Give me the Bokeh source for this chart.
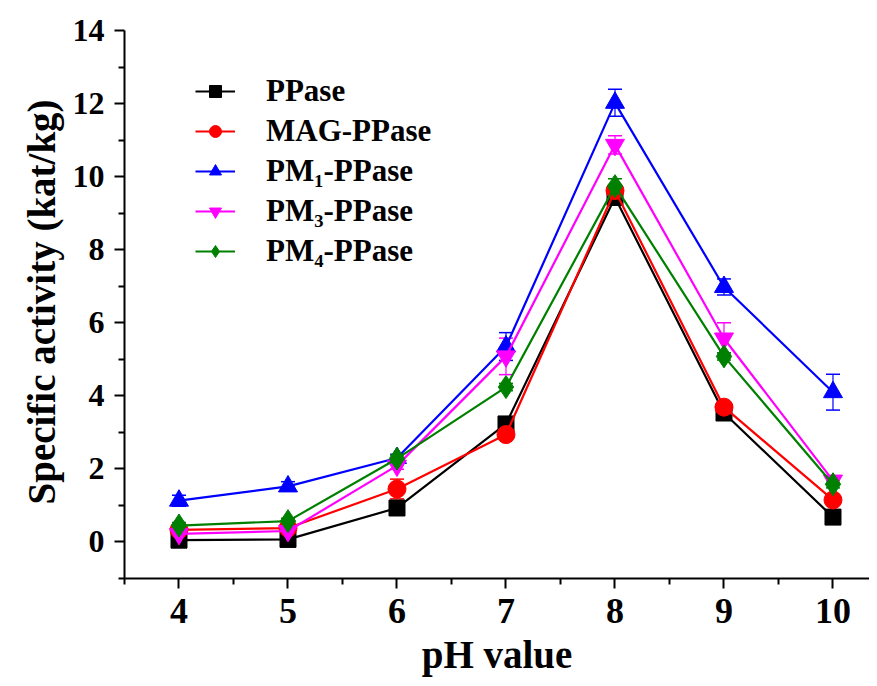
from bokeh.plotting import figure
from bokeh.models import Range1d, Whisker, ColumnDataSource, Legend, LegendItem, FixedTicker, Title
from bokeh.embed import file_html
from bokeh.resources import INLINE

ph = [4, 5, 6, 7, 8, 9, 10]
names = ["PPase", "MAG-PPase", "PM\u2081-PPase", "PM\u2083-PPase", "PM\u2084-PPase"]
ppase = [0.05, 0.07, 0.93, 3.23, 9.43, 3.53, 0.68]
mag = [0.33, 0.38, 1.45, 2.94, 9.62, 3.69, 1.15]
pm1 = [1.13, 1.52, 2.30, 5.35, 12.02, 6.98, 4.10]
pm3 = [0.22, 0.30, 2.09, 5.08, 10.87, 5.57, 1.68]
pm4 = [0.45, 0.57, 2.28, 4.24, 9.74, 5.08, 1.58]
err_ppase = [0.05, 0.05, 0.08, 0.10, 0.10, 0.10, 0.08]
err_mag = [0.05, 0.05, 0.27, 0.10, 0.10, 0.10, 0.08]
err_pm1 = [0.15, 0.13, 0.10, 0.38, 0.37, 0.22, 0.49]
err_pm3 = [0.10, 0.10, 0.10, 0.50, 0.25, 0.43, 0.10]
err_pm4 = [0.08, 0.08, 0.10, 0.10, 0.20, 0.10, 0.10]
x_title = "pH value"
y_title = "Specific activity (kat/kg)"

series = [ppase, mag, pm1, pm3, pm4]
errors = [err_ppase, err_mag, err_pm1, err_pm3, err_pm4]
colors = ["#000000", "#ff0000", "#0000ff", "#ff00ff", "#008000"]
markers = ["square", "circle", "triangle", "inverted_triangle", "diamond"]
msizes = [16, 18, 19, 19, 23]

FONT = "Liberation Serif"

p = figure(width=869, height=678, output_backend="svg", toolbar_location=None,
           x_range=Range1d(3.5, 10.335), y_range=Range1d(-1, 14),
           min_border_left=124, min_border_right=0, min_border_top=30, min_border_bottom=98)
p.outline_line_color = None
p.xgrid.visible = False
p.ygrid.visible = False

items = []
for ys, es, c, m, ms, nm in zip(series, errors, colors, markers, msizes, names):
    src = ColumnDataSource(dict(x=ph, y=ys, lo=[a - b for a, b in zip(ys, es)],
                                hi=[a + b for a, b in zip(ys, es)]))
    w = Whisker(source=src, base="x", upper="hi", lower="lo", line_color=c, line_width=1.5,
                line_alpha=0.8)
    w.upper_head.line_color = c
    w.lower_head.line_color = c
    w.upper_head.size = 14
    w.lower_head.size = 14
    w.upper_head.line_width = 1.5
    w.lower_head.line_width = 1.5
    p.add_layout(w)
    l = p.line("x", "y", source=src, line_color=c, line_width=2.2)
    s = p.scatter("x", "y", source=src, marker=m, size=ms, fill_color=c, line_color=c)
    items.append(LegendItem(label=nm, renderers=[l, s]))

legend = Legend(items=items, location=(71, 309), glyph_width=40, glyph_height=30,
                label_text_font=FONT, label_text_font_style="bold",
                label_text_font_size="31px", label_text_color="#000000",
                spacing=4, border_line_color=None,
                background_fill_alpha=0, padding=0, margin=0, label_standoff=31)
p.add_layout(legend, "center")

for ax in (p.xaxis[0], p.yaxis[0]):
    ax.axis_line_width = 2
    ax.major_tick_line_width = 2
    ax.minor_tick_line_width = 2
    ax.major_tick_out = 10
    ax.major_tick_in = 0
    ax.minor_tick_out = 6
    ax.minor_tick_in = 0
    ax.major_label_text_font = FONT
    ax.major_label_text_font_style = "bold"
    ax.major_label_text_font_size = "32px"
    ax.major_label_text_color = "#000000"
    ax.axis_label_text_font = FONT
    ax.axis_label_text_font_style = "bold"
    ax.axis_label_text_font_size = "39px"
    ax.axis_label_text_color = "#000000"

p.xaxis.major_label_text_font_size = "36px"
p.xaxis.ticker = FixedTicker(ticks=ph, minor_ticks=[3.5, 4.5, 5.5, 6.5, 7.5, 8.5, 9.5, 10.5])
p.yaxis.ticker = FixedTicker(ticks=[0, 2, 4, 6, 8, 10, 12, 14], minor_ticks=[-1, 1, 3, 5, 7, 9, 11, 13])
p.xaxis.axis_label = x_title
p.xaxis.major_label_standoff = 10
p.yaxis.major_label_standoff = 10
p.xaxis.axis_label_standoff = 7

ytitle = Title(text=y_title, align="left", offset=74, text_font=FONT, text_font_style="bold",
               text_font_size="39px", text_color="#000000", standoff=13)
p.add_layout(ytitle, "left")

open("out.html", "w").write(file_html(p, INLINE))
